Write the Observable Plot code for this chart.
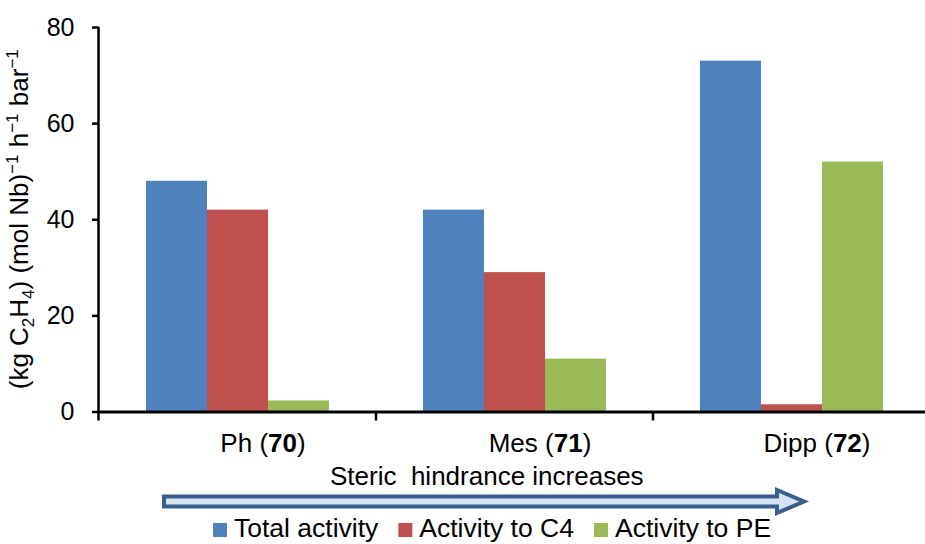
<!DOCTYPE html>
<html><head><meta charset="utf-8">
<script src="https://cdn.jsdelivr.net/npm/d3@7"></script>
<script src="https://cdn.jsdelivr.net/npm/@observablehq/plot@0.6"></script>
<style>body{margin:0;background:#fff;} svg{display:block;overflow:visible;}</style>
</head><body><div id="chart"></div>
<script>
// ---- data ----
const ligands = ["Ph", "Mes", "Dipp"];
const complexes = ["70", "71", "72"];
const series = ["Total activity", "Activity to C4", "Activity to PE"];
const totalActivity = [48, 42, 73];
const activityC4 = [42, 29, 1.5];
const activityPE = [2.3, 11, 52];
const colors = ["#4F81BD", "#C0504D", "#9BBB59"];
const yTicks = [0, 20, 40, 60, 80];
const xNote = "Steric  hindrance increases";

const values = [totalActivity, activityC4, activityPE];
const data = [];
ligands.forEach((lig, i) => {
  series.forEach((s, j) => data.push({cat: lig, series: s, value: values[j][i]}));
});

const font = "'Liberation Sans', Arial, Helvetica, sans-serif";
const plot = Plot.plot({
  width: 925, height: 544,
  marginLeft: 98, marginRight: -5, marginTop: 27, marginBottom: 132.5,
  style: {fontFamily: font, fontSize: "25px", color: "#000", background: "#fff"},
  fx: {domain: ligands, padding: 0, label: null},
  x: {domain: series, paddingInner: 0, paddingOuter: 0.75, axis: null},
  y: {domain: [0, 80], label: null},
  color: {domain: series, range: colors},
  marks: [
    Plot.barY(data, {fx: "cat", x: "series", y: "value", fill: "series"}),
    Plot.ruleY([0], {stroke: "#000", strokeWidth: 3}),
    Plot.axisY({ticks: yTicks, tickSize: 7, tickPadding: 18, strokeWidth: 2.5, fontSize: 25, label: null}),
    Plot.axisFx({anchor: "bottom", tickSize: 0, tickPadding: 22, fontSize: 26, dx: 25, label: null})
  ]
});
document.getElementById("chart").appendChild(plot);

const svg = d3.select(plot);
const fx = plot.scale("fx");
const y = plot.scale("y");
const color = plot.scale("color");
const y0 = y.apply(0), yTop = y.apply(80);
const left = fx.apply(ligands[0]);

// category labels with bold compound numbers
svg.selectAll('g[aria-label="fx-axis tick label"] text').each(function(d, i) {
  const t = d3.select(this);
  const k = ligands.indexOf(this.textContent.trim());
  const idx = k >= 0 ? k : i;
  t.text("");
  t.append("tspan").text(ligands[idx] + " (");
  t.append("tspan").attr("font-weight", "bold").text(complexes[idx]);
  t.append("tspan").text(")");
});

// y axis line
svg.append("line").attr("x1", left - 0.5).attr("x2", left - 0.5)
  .attr("y1", yTop).attr("y2", y0 + 9).attr("stroke", "#000").attr("stroke-width", 2.5);
// category boundary ticks
ligands.slice(1).forEach(c => {
  const xb = fx.apply(c);
  svg.append("line").attr("x1", xb).attr("x2", xb).attr("y1", y0).attr("y2", y0 + 9)
    .attr("stroke", "#000").attr("stroke-width", 2.5);
});

// y label
const yl = svg.append("text").attr("transform", `translate(28,${(yTop + y0) / 2}) rotate(-90)`)
  .attr("text-anchor", "middle").attr("font-family", font).attr("font-size", 26).attr("fill", "#000");
const parts = [
  ["(kg C", 0], ["2", 1], ["H", 0], ["4", 1], [") (mol Nb)", 0], ["\u22121", -1],
  [" h", 0], ["\u22121", -1], [" bar", 0], ["\u22121", -1]
];
let shift = 0;
parts.forEach(([s, m]) => {
  const target = m === 1 ? 6 : m === -1 ? -10 : 0;
  const ts = yl.append("tspan").attr("dy", target - shift).text(s);
  if (m !== 0) ts.attr("font-size", 17);
  shift = target;
});

// note text
svg.append("text").attr("x", 330).attr("y", 485).attr("font-family", font).attr("font-size", 26)
  .attr("text-anchor", "start").attr("fill", "#000").style("white-space", "pre").text(xNote);

// arrow
const ax0 = 164, ax1 = 777, axTip = 804, ayc = 501.5;
svg.append("polygon")
  .attr("points", [[ax0, ayc - 5], [ax1, ayc - 5], [ax1, ayc - 11.5], [axTip, ayc], [ax1, ayc + 11.5], [ax1, ayc + 5], [ax0, ayc + 5]].map(p => p.join(",")).join(" "))
  .attr("fill", "#D6E3F2").attr("stroke", "#3A5F8E").attr("stroke-width", 4).attr("stroke-linejoin", "miter");

// legend
let lx = 213;
const ly = 537;
series.forEach(s => {
  svg.append("rect").attr("x", lx).attr("y", ly - 14).attr("width", 14).attr("height", 14).attr("fill", color.apply(s));
  const t = svg.append("text").attr("x", lx + 21).attr("y", ly).attr("font-family", font).attr("font-size", 26.5)
    .attr("text-anchor", "start").attr("fill", "#000").text(s);
  lx = lx + 21 + t.node().getComputedTextLength() + 20;
});
</script>
</body></html>
